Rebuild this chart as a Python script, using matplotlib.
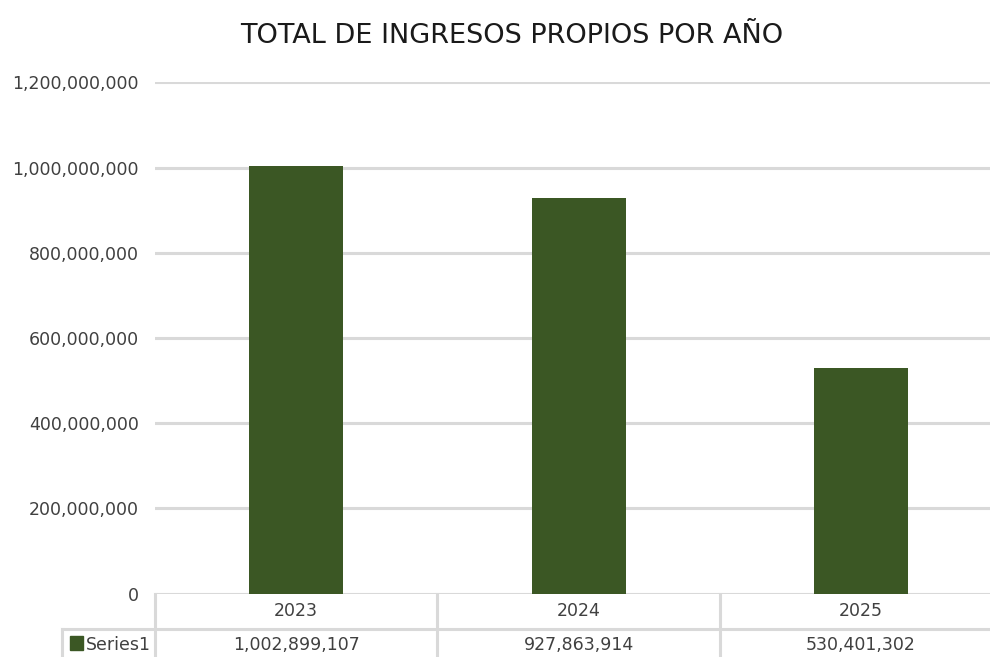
import matplotlib.pyplot as plt
from matplotlib.patches import Rectangle
from matplotlib.ticker import FuncFormatter

# Data
years = ["2023", "2024", "2025"]
ingresos = [1002899107, 927863914, 530401302]
series_name = "Series1"
y_ticks = [0, 200000000, 400000000, 600000000, 800000000, 1000000000, 1200000000]

bar_color = "#3B5724"
grid_color = "#D9D9D9"
text_color = "#404040"

fig = plt.figure(figsize=(9.9, 6.57), dpi=100)
# plot area runs a little past the right edge (chart is cropped there)
ax = fig.add_axes([0.1566, 0.0963, 0.8556, 0.7784])

x = list(range(len(years)))
ax.bar(x, ingresos, width=0.333, color=bar_color, zorder=3)

ax.set_xlim(-0.5, len(years) - 0.5)
ax.set_ylim(0, 1200000000)
ax.set_yticks(y_ticks)
ax.yaxis.set_major_formatter(FuncFormatter(lambda v, p: f"{v:,.0f}"))
ax.tick_params(axis="y", length=0, pad=11.5, labelsize=12.5, labelcolor=text_color)
ax.set_xticks([])
ax.grid(axis="y", color=grid_color, linewidth=2.2, zorder=0)
for s in ax.spines.values():
    s.set_visible(False)

# Title
fig.text(0.517, 1 - 36 / 657, "TOTAL DE INGRESOS PROPIOS POR AÑO",
         ha="center", va="center", fontsize=19.5, color="#1a1a1a")

# Data table under the chart
tx = ax.get_xaxis_transform()
row_h = 0.0684
# left edge of the legend cell, in axes fraction
legend_left = (62 - 155) / 847

# horizontal line between the rows
ax.plot([legend_left, 1], [-row_h, -row_h], transform=ax.transAxes,
        color=grid_color, linewidth=2.2, clip_on=False)
# vertical lines between the columns
for i in range(len(years)):
    ax.plot([i - 0.5, i - 0.5], [0, -2 * row_h], transform=tx,
            color=grid_color, linewidth=2.2, clip_on=False)
ax.plot([legend_left, legend_left], [-row_h, -2 * row_h], transform=ax.transAxes,
        color=grid_color, linewidth=2.2, clip_on=False)

for i, (yr, val) in enumerate(zip(years, ingresos)):
    ax.text(i, -row_h / 2, yr, transform=tx, ha="center", va="center",
            fontsize=12.5, color=text_color, clip_on=False)
    ax.text(i, -row_h * 1.5 + 0.002, f"{val:,}", transform=tx, ha="center", va="center",
            fontsize=12.5, color=text_color, clip_on=False)

# legend key + series name
ax.add_patch(Rectangle(((70 - 155) / 847, -0.110), 13 / 847, 0.0274,
                       transform=ax.transAxes, color=bar_color, clip_on=False))
ax.text((86 - 155) / 847, -row_h * 1.5 + 0.002, series_name, transform=ax.transAxes,
        ha="left", va="center", fontsize=12.5, color=text_color, clip_on=False)

plt.savefig("out.png", dpi=100)
plt.close()
